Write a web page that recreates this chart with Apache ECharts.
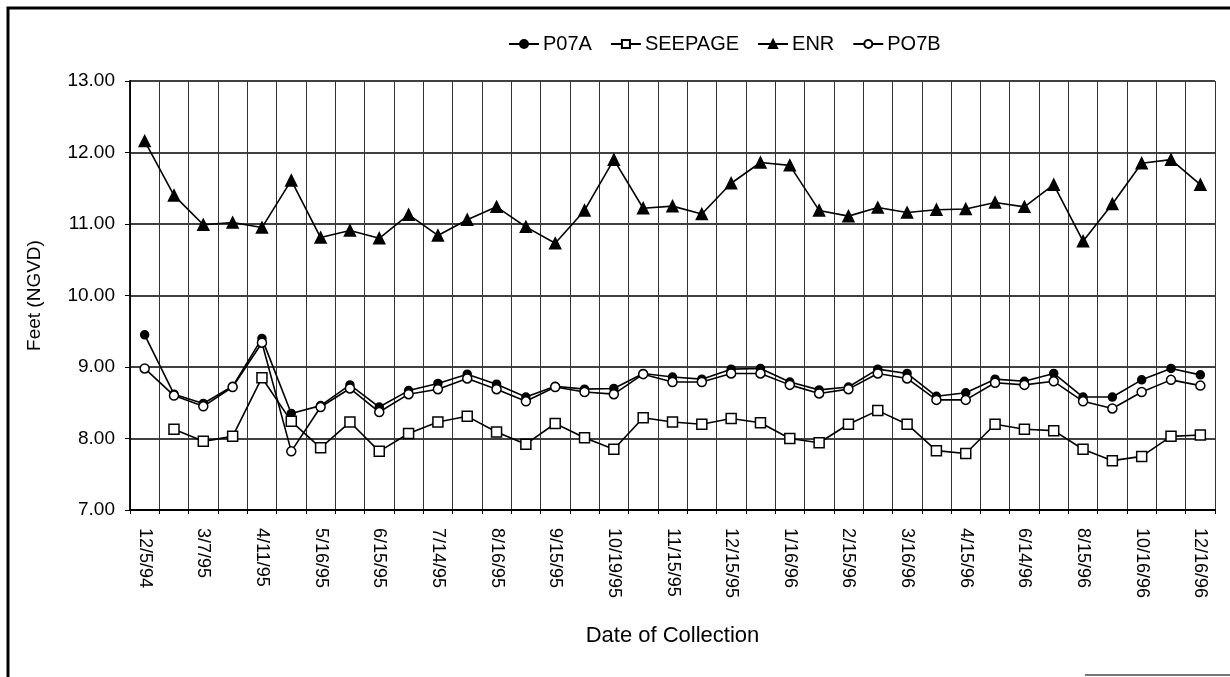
<!DOCTYPE html>
<html>
<head>
<meta charset="utf-8">
<title>Feet (NGVD)</title>
<script src="https://cdn.jsdelivr.net/npm/echarts@6/dist/echarts.min.js"></script>
<style>
  html, body { margin: 0; padding: 0; background: #fff; }
  #main { width: 1230px; height: 677px; }
</style>
</head>
<body>
<div id="main"></div>
<script>
// labels shown on every other collection date
var tickLabels = ['12/5/94', '3/7/95', '4/11/95', '5/16/95', '6/15/95', '7/14/95', '8/16/95',
  '9/15/95', '10/19/95', '11/15/95', '12/15/95', '1/16/96', '2/15/96', '3/16/96',
  '4/15/96', '6/14/96', '8/15/96', '10/16/96', '12/16/96'];

var p07a = [9.45, 8.62, 8.49, 8.73, 9.40, 8.35, 8.46, 8.75, 8.44, 8.67,
  8.77, 8.90, 8.76, 8.58, 8.73, 8.69, 8.70, 8.91, 8.86, 8.83,
  8.97, 8.98, 8.79, 8.68, 8.72, 8.97, 8.91, 8.59, 8.64, 8.83,
  8.80, 8.91, 8.58, 8.58, 8.82, 8.98, 8.89];

var seepage = [null, 8.13, 7.96, 8.03, 8.85, 8.24, 7.87, 8.23, 7.82, 8.07,
  8.23, 8.31, 8.09, 7.92, 8.21, 8.01, 7.85, 8.29, 8.23, 8.20,
  8.28, 8.22, 8.00, 7.94, 8.20, 8.39, 8.20, 7.83, 7.79, 8.20,
  8.13, 8.11, 7.85, 7.69, 7.75, 8.03, 8.05];

var enr = [12.16, 11.40, 10.99, 11.02, 10.95, 11.61, 10.81, 10.91, 10.80, 11.13,
  10.84, 11.06, 11.24, 10.96, 10.73, 11.19, 11.90, 11.22, 11.25, 11.14,
  11.57, 11.86, 11.82, 11.19, 11.11, 11.23, 11.16, 11.20, 11.21, 11.30,
  11.24, 11.55, 10.76, 11.28, 11.85, 11.90, 11.55];

var p07b = [8.98, 8.60, 8.45, 8.72, 9.34, 7.82, 8.44, 8.70, 8.37, 8.62,
  8.69, 8.84, 8.69, 8.52, 8.72, 8.65, 8.62, 8.90, 8.79, 8.79,
  8.91, 8.91, 8.75, 8.63, 8.69, 8.91, 8.84, 8.54, 8.54, 8.78,
  8.75, 8.80, 8.52, 8.42, 8.65, 8.82, 8.74];

// one category per sample, labelled dates every second one
var categories = [];
for (var i = 0; i < tickLabels.length; i++) {
  categories.push(tickLabels[i]);
  if (i < tickLabels.length - 1) categories.push('');
}

var font = 'Liberation Sans, Arial, sans-serif';

var myChart = echarts.init(document.getElementById('main'));

function lineSeries(name, data, symbol, size, fill) {
  return {
    name: name,
    type: 'line',
    data: data,
    symbol: symbol,
    symbolSize: size,
    showAllSymbol: true,
    connectNulls: false,
    lineStyle: { color: '#000', width: 1.6 },
    itemStyle: { color: fill, borderColor: '#000', borderWidth: 1.5 },
    emphasis: { disabled: true },
    z: 3
  };
}

var option = {
  animation: false,
  backgroundColor: '#fff',
  textStyle: { fontFamily: font, color: '#000' },
  legend: {
    top: 29,
    left: 503,
    itemWidth: 30,
    itemHeight: 10,
    itemGap: 18,
    textStyle: { fontFamily: font, fontSize: 20, color: '#000', padding: [0, 0, 0, -1] },
    data: ['P07A', 'SEEPAGE', 'ENR', 'PO7B']
  },
  grid: { left: 130, right: 15, top: 81, bottom: 167 },
  xAxis: {
    type: 'category',
    data: categories,
    boundaryGap: true,
    name: 'Date of Collection',
    nameLocation: 'middle',
    nameGap: 115,
    nameTextStyle: { fontFamily: font, fontSize: 22, color: '#000' },
    axisLine: { lineStyle: { color: '#000', width: 1.8 } },
    axisTick: { show: true, interval: 0, length: 4, lineStyle: { color: '#000' } },
    axisLabel: {
      interval: 1,
      rotate: -90,
      margin: 18,
      fontFamily: font,
      fontSize: 18,
      color: '#000'
    },
    splitLine: { show: true, interval: 0, lineStyle: { color: '#333', width: 1 } }
  },
  yAxis: {
    type: 'value',
    min: 7,
    max: 13,
    interval: 1,
    name: 'Feet (NGVD)',
    nameLocation: 'middle',
    nameGap: 86,
    nameTextStyle: { fontFamily: font, fontSize: 19, color: '#000' },
    axisLine: { show: true, lineStyle: { color: '#000', width: 1.8 } },
    axisTick: { show: true, inside: false, length: 5, lineStyle: { color: '#000' } },
    axisLabel: {
      margin: 15,
      fontFamily: font,
      fontSize: 19,
      color: '#000',
      formatter: function (v) { return v.toFixed(2); }
    },
    splitLine: { show: true, lineStyle: { color: '#000', width: 1.6 } }
  },
  graphic: [{
    type: 'polyline',
    shape: { points: [[8, 677], [8, 8], [1230, 8]] },
    style: { stroke: '#000', lineWidth: 3, fill: null },
    silent: true
  }, {
    type: 'line',
    shape: { x1: 1085, y1: 675, x2: 1230, y2: 675 },
    style: { stroke: '#777', lineWidth: 2 },
    silent: true
  }],
  series: [
    lineSeries('P07A', p07a, 'circle', 8, '#000'),
    lineSeries('SEEPAGE', seepage, 'rect', 10, '#fff'),
    lineSeries('ENR', enr, 'triangle', 11, '#000'),
    lineSeries('PO7B', p07b, 'circle', 9, '#fff')
  ]
};

myChart.setOption(option);
</script>
</body>
</html>
